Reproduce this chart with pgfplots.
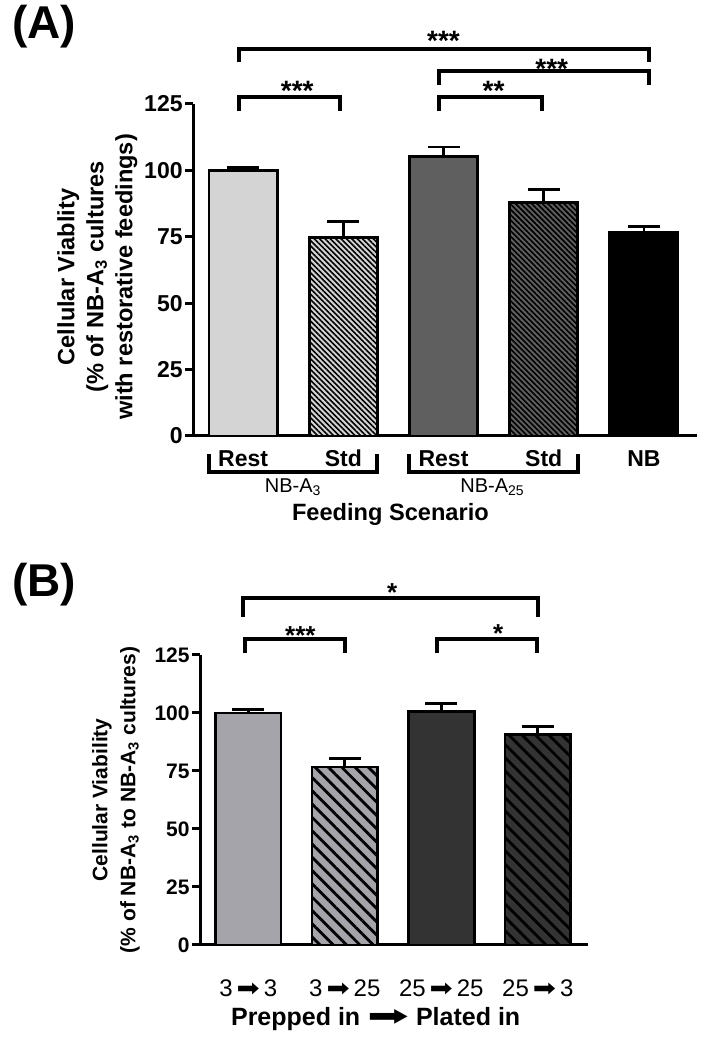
\documentclass[border=0pt]{standalone}
\usepackage{fontspec}
\setmainfont{Liberation Sans}
\newfontfamily\dejavu{DejaVu Sans}
\usepackage{graphicx}
\usepackage{pgfplots}
\pgfplotsset{compat=1.18}
\usetikzlibrary{patterns.meta}
\definecolor{aLight}{HTML}{D4D4D4}
\definecolor{aDark}{HTML}{5F5F5F}
\definecolor{bLight}{HTML}{A4A4AA}
\definecolor{bDark}{HTML}{333333}
\newcommand{\arr}{{\dejavu\scalebox{1.15}[1.0]{➡}}}
\pgfplotsset{
  barA/.style={ybar, bar width=0.68, bar shift=0pt, draw=black, line width=1.4pt},
  barB/.style={ybar, bar width=0.68, bar shift=0pt, draw=black, line width=1.4pt},
  brk/.style={black, line width=2pt, mark=none, line join=miter},
  errs/.style={draw=none, mark=none, forget plot,
    error bars/.cd, y dir=plus, y explicit,
    error bar style={draw=black, line width=1.4pt},
    error mark options={draw=black, line width=1.4pt, mark size=8pt, rotate=90}},
}
\begin{document}
\begin{tikzpicture}
\path[use as bounding box] (0,0) rectangle (352pt,518.5pt);

% ---------------- Panel A ----------------
\begin{axis}[
  at={(96.5pt,300.5pt)}, anchor=south west,
  width=252pt, height=166pt, scale only axis,
  xmin=0.5, xmax=5.53, ymin=0, ymax=125,
  axis x line*=bottom, axis y line*=left,
  axis line style={line width=1.5pt, -},
  ytick={0,25,50,75,100,125},
  xtick={1,2,3,4,5}, xticklabels={Rest,Std,Rest,Std,NB},
  x tick style={draw=none},
  y tick style={line width=1.5pt, black},
  tick align=outside, major tick length=4pt,
  /pgf/number format/assume math mode=true,
  tick label style={font=\fontsize{11.5}{13}\selectfont\bfseries},
  yticklabel style={inner sep=1pt},
  xticklabel style={yshift=1pt, text height=8.5pt, text depth=0pt},
  ylabel={Cellular Viablity\\(\% of NB-A\textsubscript{3} cultures\\with restorative feedings)},
  ylabel style={align=center, font=\fontsize{11.8}{14.5}\selectfont\bfseries,
    at={(axis description cs:-0.19,0.479)}, anchor=center},
  clip=false,
]
\addplot[barA, fill=aLight] coordinates {(1,100)};
\addplot[barA, fill=aLight, postaction={pattern={Lines[angle=-45,distance=1.9pt,line width=0.8pt]}}] coordinates {(2,74.6)};
\addplot[barA, fill=aDark] coordinates {(3,105.3)};
\addplot[barA, fill=aDark, postaction={pattern={Lines[angle=-45,distance=1.9pt,line width=0.8pt]}}] coordinates {(4,88.0)};
\addplot[barA, fill=black] coordinates {(5,76.8)};
\addplot[errs] coordinates {(1,100) +- (0,1.0) (2,74.6) +- (0,6.1) (3,105.3) +- (0,3.5) (4,88.0) +- (0,4.8) (5,76.8) +- (0,2.2)};
% significance brackets
\addplot[brk] coordinates {(0.96,122.2) (0.96,127.5) (1.97,127.5) (1.97,122.2)};
\addplot[brk] coordinates {(2.96,122.2) (2.96,127.5) (3.98,127.5) (3.98,122.2)};
\addplot[brk] coordinates {(2.96,132.3) (2.96,137.6) (5.05,137.6) (5.05,132.3)};
\addplot[brk] coordinates {(0.96,140.7) (0.96,145.7) (5.05,145.7) (5.05,140.7)};
\node[font=\fontsize{14}{16}\selectfont\bfseries, anchor=base] at (axis cs:1.54,126.3) {***};
\node[font=\fontsize{14}{16}\selectfont\bfseries, anchor=base] at (axis cs:3.5,126.3) {**};
\node[font=\fontsize{14}{16}\selectfont\bfseries, anchor=base] at (axis cs:4.08,134.7) {***};
\node[font=\fontsize{14}{16}\selectfont\bfseries, anchor=base] at (axis cs:3.0,145.3) {***};
% group brackets below
\addplot[brk] coordinates {(0.66,-6.8) (0.66,-13.6) (2.34,-13.6) (2.34,-6.8)};
\addplot[brk] coordinates {(2.66,-6.8) (2.66,-13.6) (4.34,-13.6) (4.34,-6.8)};
\node[font=\fontsize{10}{12}\selectfont] at (axis cs:1.5,-19.4) {NB-A\textsubscript{3}};
\node[font=\fontsize{10}{12}\selectfont] at (axis cs:3.49,-19.4) {NB-A\textsubscript{25}};
\node[font=\fontsize{11.8}{14}\selectfont\bfseries] at (axis cs:2.47,-29.7) {Feeding Scenario};
\node[font=\fontsize{23}{27}\selectfont\bfseries, anchor=west] at (rel axis cs:-0.373,1.232) {(A)};
\end{axis}

% ---------------- Panel B ----------------
\begin{axis}[
  at={(100pt,46pt)}, anchor=south west,
  width=194pt, height=145pt, scale only axis,
  xmin=0.5, xmax=4.52, ymin=0, ymax=125,
  axis x line*=bottom, axis y line*=left,
  axis line style={line width=1.5pt, -},
  ytick={0,25,50,75,100,125},
  xtick={1,2,3,4},
  xticklabels={3\,\arr\,3, 3\,\arr\,25, 25\,\arr\,25, 25\,\arr\,3},
  x tick style={draw=none},
  y tick style={line width=1.5pt, black},
  tick align=outside, major tick length=4pt,
  /pgf/number format/assume math mode=true,
  yticklabel style={inner sep=1pt, font=\fontsize{10.5}{12}\selectfont\bfseries},
  xticklabel style={yshift=-10pt, font=\fontsize{12}{14}\selectfont},
  ylabel={Cellular Viability\\(\% of NB-A\textsubscript{3} to NB-A\textsubscript{3} cultures)},
  ylabel style={align=center, font=\fontsize{10.5}{14}\selectfont\bfseries,
    at={(axis description cs:-0.2165,0.5)}, anchor=center},
  clip=false,
]
\addplot[barB, fill=bLight] coordinates {(1,100)};
\addplot[barB, fill=bLight, postaction={pattern={Lines[angle=-45,distance=4.7pt,line width=1.4pt]}}] coordinates {(2,76.7)};
\addplot[barB, fill=bDark] coordinates {(3,100.6)};
\addplot[barB, fill=bDark, postaction={pattern={Lines[angle=-45,distance=4.7pt,line width=1.4pt]}}] coordinates {(4,90.9)};
\addplot[errs] coordinates {(1,100) +- (0,1.4) (2,76.7) +- (0,3.7) (3,100.6) +- (0,3.5) (4,90.9) +- (0,3.4)};
\addplot[brk] coordinates {(0.97,125.7) (0.97,132.1) (2.0,132.1) (2.0,125.7)};
\addplot[brk] coordinates {(2.96,125.7) (2.96,132.1) (3.99,132.1) (3.99,125.7)};
\addplot[brk] coordinates {(0.95,141.4) (0.95,149.6) (4.0,149.6) (4.0,141.4)};
\node[font=\fontsize{13}{15}\selectfont\bfseries, anchor=base] at (axis cs:1.54,129.4) {***};
\node[font=\fontsize{13}{15}\selectfont\bfseries, anchor=base] at (axis cs:3.59,130.6) {*};
\node[font=\fontsize{13}{15}\selectfont\bfseries, anchor=base] at (axis cs:2.49,148.1) {*};
\node[font=\fontsize{12.5}{14}\selectfont\bfseries] at (axis cs:2.32,-31.9) {Prepped in {\dejavu\scalebox{2.0}[1.1]{➡}} Plated in};
\node[font=\fontsize{23}{27}\selectfont\bfseries, anchor=west] at (rel axis cs:-0.5026,1.241) {(B)};
\end{axis}
\end{tikzpicture}
\end{document}
